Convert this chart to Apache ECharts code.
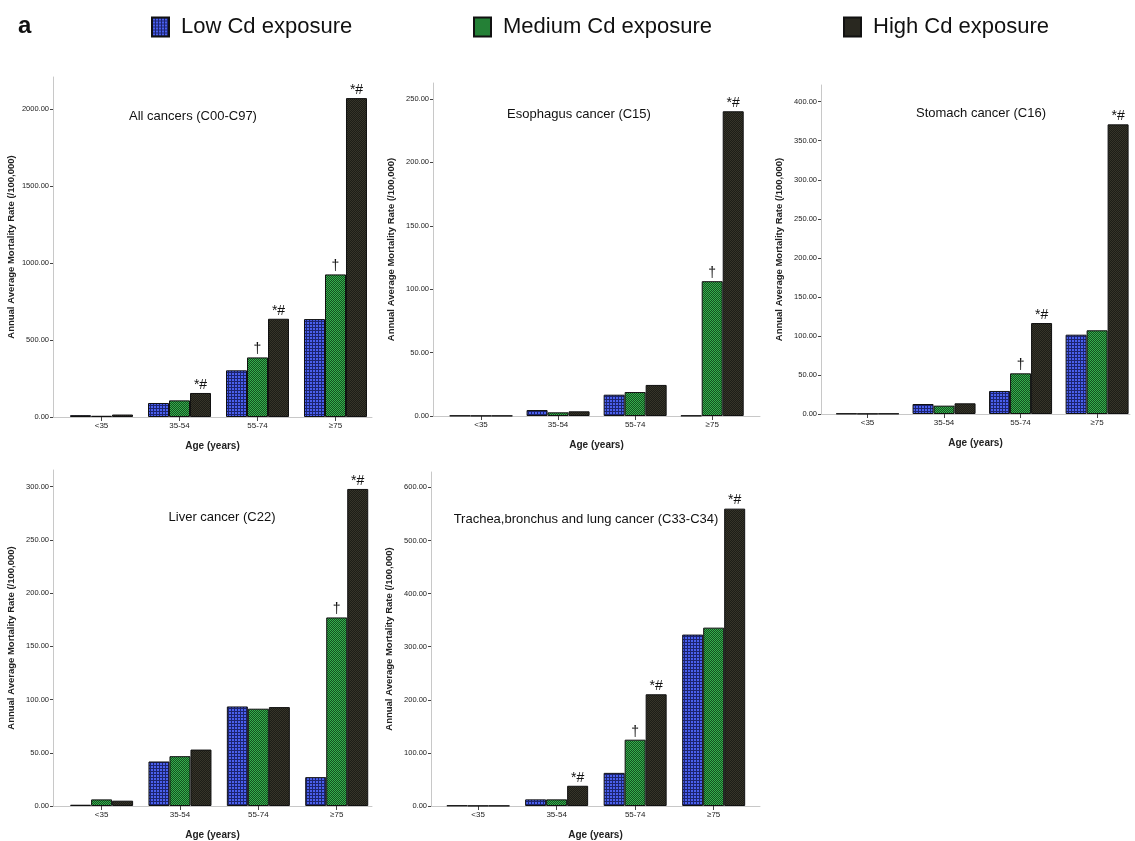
<!DOCTYPE html>
<html>
	<head>
		<meta charset="UTF-8">
		<title>Cd exposure mortality</title>
		<style>
			html,body{margin:0;padding:0;background:#fff;}
			#chart{width:1135px;height:841px;}
		</style>
	</head>
	<body>
		<div id="chart"></div>
		<script type="text/javascript" src="https://cdn.jsdelivr.net/npm/echarts@6/dist/echarts.min.js"></script>
		<script type="text/javascript">
			var categories = ['<35', '35-54', '55-74', '≥75'];
			var seriesNames = ['Low Cd exposure', 'Medium Cd exposure', 'High Cd exposure'];

			var allLow = [12, 91, 303, 636];
			var allMed = [8, 108, 387, 926];
			var allHigh = [16, 156, 638, 2071];
			var allMarksMed = ['', '', '†', '†'];
			var allMarksHigh = ['', '*#', '*#', '*#'];
			var allTicks = [0, 500, 1000, 1500, 2000];

			var esoLow = [0.3, 4.7, 16.8, 0.3];
			var esoMed = [0.2, 2.9, 18.9, 106.3];
			var esoHigh = [0.2, 3.7, 24.5, 240.3];
			var esoMarksMed = ['', '', '', '†'];
			var esoMarksHigh = ['', '', '', '*#'];
			var esoTicks = [0, 50, 100, 150, 200, 250];

			var stoLow = [0.6, 12.8, 29.5, 101.6];
			var stoMed = [0.4, 10.7, 52.1, 107.2];
			var stoHigh = [0.5, 13.7, 116.5, 371];
			var stoMarksMed = ['', '', '†', ''];
			var stoMarksHigh = ['', '', '*#', '*#'];
			var stoTicks = [0, 50, 100, 150, 200, 250, 300, 350, 400];

			var livLow = [1.2, 41.8, 93.5, 27.1];
			var livMed = [6.2, 46.8, 91.4, 177.1];
			var livHigh = [5.0, 53.0, 92.9, 297.8];
			var livMarksMed = ['', '', '', '†'];
			var livMarksHigh = ['', '', '', '*#'];
			var livTicks = [0, 50, 100, 150, 200, 250, 300];

			var lungLow = [1.0, 12.5, 62.4, 322.8];
			var lungMed = [0.5, 12.5, 124.9, 335.9];
			var lungHigh = [0.5, 38.1, 210.4, 560];
			var lungMarksMed = ['', '', '†', ''];
			var lungMarksHigh = ['', '*#', '*#', '*#'];
			var lungTicks = [0, 100, 200, 300, 400, 500, 600];

			// small tiled fills that imitate the SPSS hatch patterns
			function makePattern(size, draw){
				var c = document.createElement('canvas');
				c.width = size;
				c.height = size;
				draw(c.getContext('2d'));
				return {image: c, repeat: 'repeat'};
			}
			var lowFill = makePattern(3, function(ctx){
				ctx.fillStyle = '#4a60ee';
				ctx.fillRect(0, 0, 3, 3);
				ctx.fillStyle = '#1c2470';
				ctx.fillRect(0, 0, 3, 1);
				ctx.fillRect(0, 0, 1, 3);
			});
			var medFill = makePattern(2, function(ctx){
				ctx.fillStyle = '#14501f';
				ctx.fillRect(0, 0, 2, 2);
				ctx.fillStyle = '#35b04e';
				ctx.fillRect(0, 0, 1, 1);
				ctx.fillRect(1, 1, 1, 1);
			});
			var highFill = makePattern(2, function(ctx){
				ctx.fillStyle = '#1d1d17';
				ctx.fillRect(0, 0, 2, 2);
				ctx.fillStyle = '#363429';
				ctx.fillRect(0, 0, 1, 1);
				ctx.fillRect(1, 1, 1, 1);
			});
			var fills = [lowFill, medFill, highFill];

			var panels = [
				{title: 'All cancers (C00-C97)', tx: 188, ty: 105, data: [allLow, allMed, allHigh], marks: [null, allMarksMed, allMarksHigh], ticks: allTicks,
					left: 53, top: 77, width: 319, height: 340, xmin: -0.622, xmax: 3.468, ymax: 2208},
				{title: 'Esophagus cancer (C15)', tx: 574, ty: 103, data: [esoLow, esoMed, esoHigh], marks: [null, esoMarksMed, esoMarksHigh], ticks: esoTicks,
					left: 433, top: 83, width: 327, height: 333, xmin: -0.623, xmax: 3.62, ymax: 262.6},
				{title: 'Stomach cancer (C16)', tx: 976, ty: 102, data: [stoLow, stoMed, stoHigh], marks: [null, stoMarksMed, stoMarksHigh], ticks: stoTicks,
					left: 821, top: 85, width: 309, height: 329, xmin: -0.608, xmax: 3.43, ymax: 421.4},
				{title: 'Liver cancer (C22)', tx: 217, ty: 506, data: [livLow, livMed, livHigh], marks: [null, livMarksMed, livMarksHigh], ticks: livTicks,
					left: 53, top: 470, width: 319, height: 337, xmin: -0.62, xmax: 3.45, ymax: 315.6},
				{title: 'Trachea,bronchus and lung cancer (C33-C34)', tx: 581, ty: 508, data: [lungLow, lungMed, lungHigh], marks: [null, lungMarksMed, lungMarksHigh], ticks: lungTicks,
					left: 431, top: 472, width: 329, height: 336, xmin: -0.6, xmax: 3.59, ymax: 629}
			];

			var grids = [], xAxes = [], yAxes = [], series = [];
			var titles = [{
				text: 'a', left: 13, top: 9,
				textStyle: {fontSize: 24, fontWeight: 'bold', color: '#111', fontFamily: 'Liberation Sans'}
			}];

			panels.forEach(function(p, idx){
				grids.push({left: p.left, top: p.top, width: p.width, height: p.height});
				titles.push({
					text: p.title, left: p.tx, top: p.ty, textAlign: 'center',
					textStyle: {fontSize: 13, fontWeight: 'normal', color: '#111', fontFamily: 'Liberation Sans'}
				});
				xAxes.push({
					type: 'value', gridIndex: idx, min: p.xmin, max: p.xmax,
					name: 'Age (years)', nameLocation: 'middle', nameGap: 24,
					nameTextStyle: {fontSize: 10, fontWeight: 'bold', color: '#222', fontFamily: 'Liberation Sans'},
					splitLine: {show: false},
					axisLine: {onZero: false, lineStyle: {color: '#c8c8c8'}},
					axisTick: {customValues: [0, 1, 2, 3], length: 4, inside: false, lineStyle: {color: '#444'}},
					axisLabel: {
						customValues: [0, 1, 2, 3], fontSize: 8, color: '#222', margin: 5, fontFamily: 'Liberation Sans',
						formatter: function(v){ return categories[Math.round(v)]; }
					}
				});
				yAxes.push({
					type: 'value', gridIndex: idx, min: 0, max: p.ymax,
					name: 'Annual Average Mortality Rate (/100,000)', nameLocation: 'middle', nameGap: 37,
					nameTextStyle: {fontSize: 9.5, fontWeight: 'bold', color: '#222', fontFamily: 'Liberation Sans'},
					splitLine: {show: false},
					axisLine: {show: true, onZero: false, lineStyle: {color: '#c8c8c8'}},
					axisTick: {show: true, customValues: p.ticks, length: 3, lineStyle: {color: '#444'}},
					axisLabel: {
						customValues: p.ticks, fontSize: 7.5, color: '#222', margin: 4, fontFamily: 'Liberation Sans',
						formatter: function(v){ return v.toFixed(2); }
					}
				});
				p.data.forEach(function(vals, s){
					var marks = p.marks[s];
					series.push({
						type: 'bar', name: seriesNames[s], xAxisIndex: idx, yAxisIndex: idx,
						barWidth: 21, barGap: '0%',
						data: vals.map(function(v, i){ return [i, v]; }),
						itemStyle: {color: fills[s], borderColor: '#111', borderWidth: 1},
						label: {
							show: !!marks, position: 'top', distance: 1,
							fontSize: 14, color: '#111', fontFamily: 'Liberation Sans',
							formatter: function(prm){ return marks ? marks[prm.dataIndex] : ''; }
						},
						emphasis: {disabled: true}
					});
				});
			});

			var legendPos = [146, 468, 838];
			var legends = seriesNames.map(function(n, i){
				return {
					data: [n], left: legendPos[i], top: 11, selectedMode: false,
					itemWidth: 17, itemHeight: 19, icon: 'rect',
					textStyle: {fontSize: 22, color: '#111', fontFamily: 'Liberation Sans', padding: [0, 0, 0, 7]}
				};
			});

			var barChar = echarts.init(document.getElementById('chart'));
			barChar.setOption({
				animation: false,
				title: titles,
				legend: legends,
				grid: grids,
				xAxis: xAxes,
				yAxis: yAxes,
				series: series
			});
		</script>
	</body>
</html>
